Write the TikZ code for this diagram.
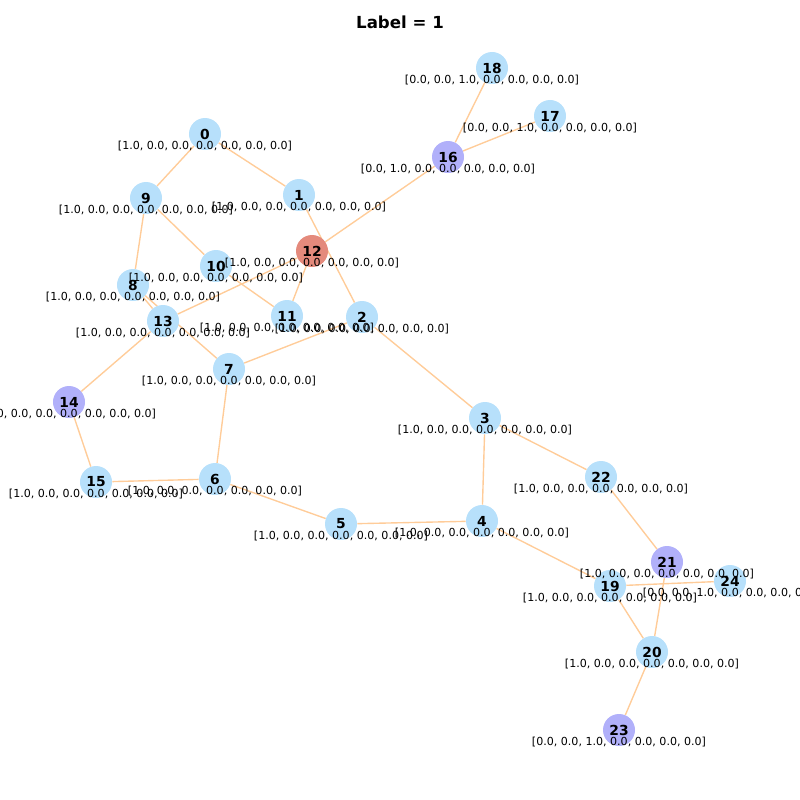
\documentclass[tikz,border=0pt]{standalone}
\usepackage{fontspec}
\setmainfont{DejaVu Sans}
\usepackage{tikz}
\usetikzlibrary{backgrounds}
\usepackage{xcolor}

\definecolor{nodeblue}{RGB}{183,224,251}
\definecolor{nodepurple}{RGB}{177,176,250}
\definecolor{nodered}{RGB}{228,138,124}
\definecolor{edgepeach}{RGB}{255,204,153}

\newcommand{\featA}{[1.0, 0.0, 0.0, 0.0, 0.0, 0.0, 0.0]}
\newcommand{\featB}{[0.0, 1.0, 0.0, 0.0, 0.0, 0.0, 0.0]}
\newcommand{\featC}{[0.0, 0.0, 1.0, 0.0, 0.0, 0.0, 0.0]}
\newcommand{\featZ}{[0.0, 0.0, 0.0, 0.0, 0.0, 0.0, 0.0]}

\tikzset{
  gnode/.style = {circle, fill=#1, inner sep=0pt, minimum size=8.13mm,
                  font=\fontsize{10}{12}\selectfont\bfseries},
  feat/.style  = {inner sep=0pt, font=\fontsize{8}{9.6}\selectfont},
  edge/.style  = {draw=edgepeach, line width=1pt}
}

\begin{document}
\begin{tikzpicture}[x=0.254mm, y=-0.254mm]
        \useasboundingbox (0,0) rectangle (800,800);
        \node[font=\fontsize{12}{14}\selectfont\bfseries] (title) at (400,22) {Label = 1};
        % nodes
        \foreach \i/\x/\y/\c in {0/205/134/nodeblue, 1/299/195/nodeblue, 2/362/317/nodeblue,
            3/485/418/nodeblue, 4/482/521/nodeblue, 5/341/524/nodeblue, 6/215/479/nodeblue,
            7/229/369/nodeblue, 8/133/285/nodeblue, 9/146/198/nodeblue, 10/216/266/nodeblue,
            11/287/316/nodeblue, 12/312/251/nodered, 13/163/321/nodeblue, 14/69/402/nodepurple,
            15/96/482/nodeblue, 16/448/157/nodepurple, 17/550/116/nodeblue, 18/492/68/nodeblue,
            19/610/586/nodeblue, 20/652/652/nodeblue, 21/667/562/nodepurple, 22/601/477/nodeblue,
            23/619/730/nodepurple, 24/730/581/nodeblue}
            \node[gnode=\c] (n\i) at (\x,\y) {\i};
        % edges
        \begin{pgfonlayer}{background}
        \foreach \a/\b in {0/9, 0/1, 1/2, 12/16, 16/18, 16/17, 9/8, 9/10, 10/11, 12/11,
            12/13, 8/13, 8/7, 13/14, 14/15, 15/6, 6/7, 7/2, 2/3, 3/4, 3/22, 4/5, 5/6,
            4/19, 22/21, 21/20, 19/24, 19/20, 20/23}
            \draw[edge] (n\a) -- (n\b);
        \end{pgfonlayer}
        % features under the nodes
        \foreach \i/\f in {0/\featA, 1/\featA, 2/\featA, 3/\featA, 4/\featA, 5/\featA,
            6/\featA, 7/\featA, 8/\featA, 9/\featA, 10/\featA, 11/\featA, 12/\featA,
            13/\featA, 14/\featZ, 15/\featA, 16/\featB, 17/\featC, 18/\featC, 19/\featA,
            20/\featA, 21/\featA, 22/\featA, 23/\featC, 24/\featC}
            \node[feat] (f\i) at ([yshift=-3.05mm]n\i.center) {\f};
    \end{tikzpicture}
\end{document}
